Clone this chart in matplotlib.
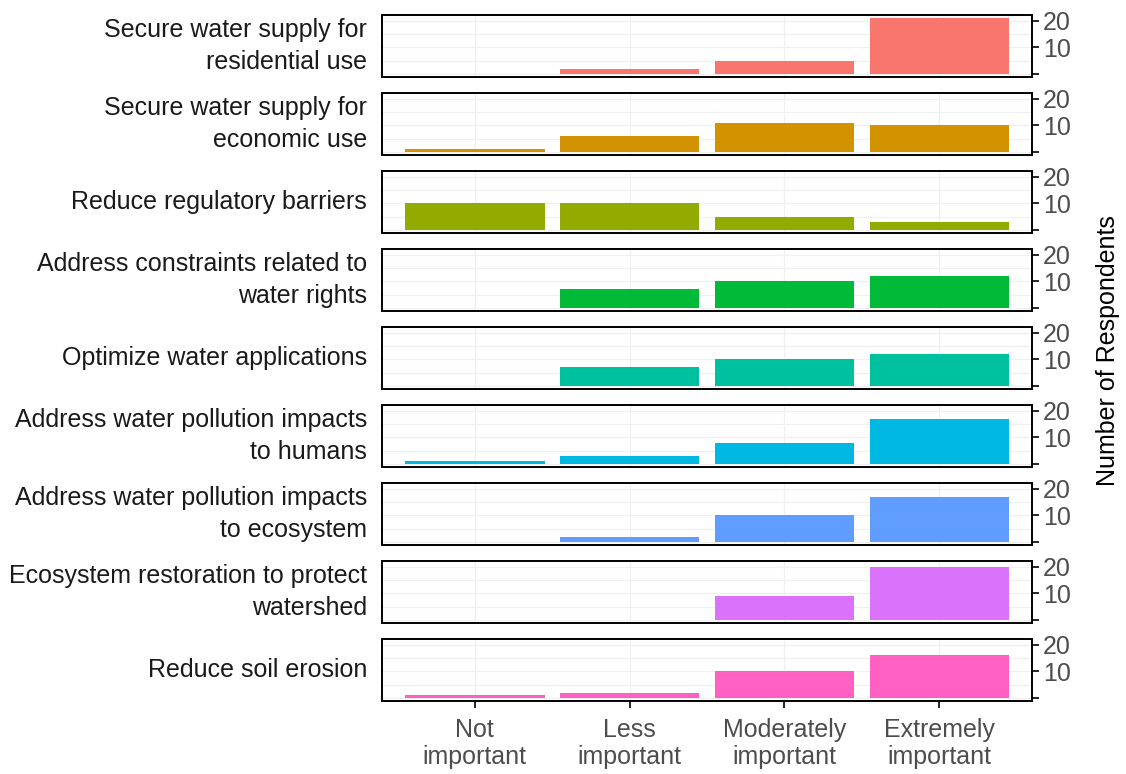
import matplotlib
matplotlib.use("Agg")
import matplotlib.pyplot as plt
import numpy as np

plt.rcParams['font.family'] = ['Liberation Sans', 'DejaVu Sans']

categories = ["Not\nimportant", "Less\nimportant", "Moderately\nimportant", "Extremely\nimportant"]
items = [
    "Secure water supply for\nresidential use",
    "Secure water supply for\neconomic use",
    "Reduce regulatory barriers",
    "Address constraints related to\nwater rights",
    "Optimize water applications",
    "Address water pollution impacts\nto humans",
    "Address water pollution impacts\nto ecosystem",
    "Ecosystem restoration to protect\nwatershed",
    "Reduce soil erosion",
]
residential = [0, 2, 5, 21]
economic = [1, 6, 11, 10]
regulatory = [10, 10, 5, 3]
water_rights = [0, 7, 10, 12]
applications = [0, 7, 10, 12]
pollution_humans = [1, 3, 8, 17]
pollution_ecosystem = [0, 2, 10, 17]
restoration = [0, 0, 9, 20]
soil_erosion = [1, 2, 10, 16]
series = [residential, economic, regulatory, water_rights, applications,
          pollution_humans, pollution_ecosystem, restoration, soil_erosion]
colors = ["#F8766D", "#D39200", "#93AA00", "#00BA38", "#00C19F",
          "#00B9E3", "#619CFF", "#DB72FB", "#FF61C3"]
y_ticks = [0, 10, 20]
y_ticklabels = ["", "10", "20"]

W, H = 1126, 774
fig = plt.figure(figsize=(W / 100, H / 100), dpi=100)
fs = 18
left_px, right_px = 382, 1032
top0, ph, step = 15, 62, 78
ymax = max(max(s) for s in series)
x = np.arange(1, len(categories) + 1)

for i, (lab, vals, col) in enumerate(zip(items, series, colors)):
    top = top0 + i * step
    ax = fig.add_axes([left_px / W, 1 - (top + ph) / H, (right_px - left_px) / W, ph / H])
    ax.bar(x, vals, width=0.9, color=col, zorder=2)
    ax.set_xlim(0.4, len(categories) + 0.6)
    ax.set_ylim(-0.05 * ymax, 1.05 * ymax)
    ax.set_yticks(y_ticks)
    ax.set_yticklabels(y_ticklabels)
    ax.set_yticks([5, 15], minor=True)
    ax.yaxis.tick_right()
    ax.tick_params(axis='y', which='major', length=5, width=1.2, color='black',
                   labelsize=fs, labelcolor='#4D4D4D', pad=3)
    ax.tick_params(axis='y', which='minor', length=0)
    ax.grid(True, axis='y', which='both', color='#F0F0F0', linewidth=0.9, zorder=0)
    ax.grid(True, axis='x', which='major', color='#F0F0F0', linewidth=0.9, zorder=0)
    ax.set_xticks(x)
    if i == len(items) - 1:
        ax.set_xticklabels(categories)
        ax.tick_params(axis='x', length=5, width=1.2, color='black',
                       labelsize=fs, labelcolor='#4D4D4D', pad=7)
        for t in ax.get_xticklabels():
            t.set_linespacing(1.2)
    else:
        ax.tick_params(axis='x', length=0, labelbottom=False)
    for sp in ax.spines.values():
        sp.set_color('black')
        sp.set_linewidth(1.4)
    ax.set_axisbelow(True)
    fig.text(367 / W, 1 - (top + ph / 2) / H, lab, ha='right', va='center',
             multialignment='right', fontsize=fs, color='#1A1A1A', linespacing=1.42)

fig.text(1108 / W, 1 - (top0 + (8 * step + ph)) / 2 / H, "Number of Respondents",
         rotation=90, ha='center', va='center', fontsize=fs, color='black')

fig.savefig("out.png", dpi=100)
